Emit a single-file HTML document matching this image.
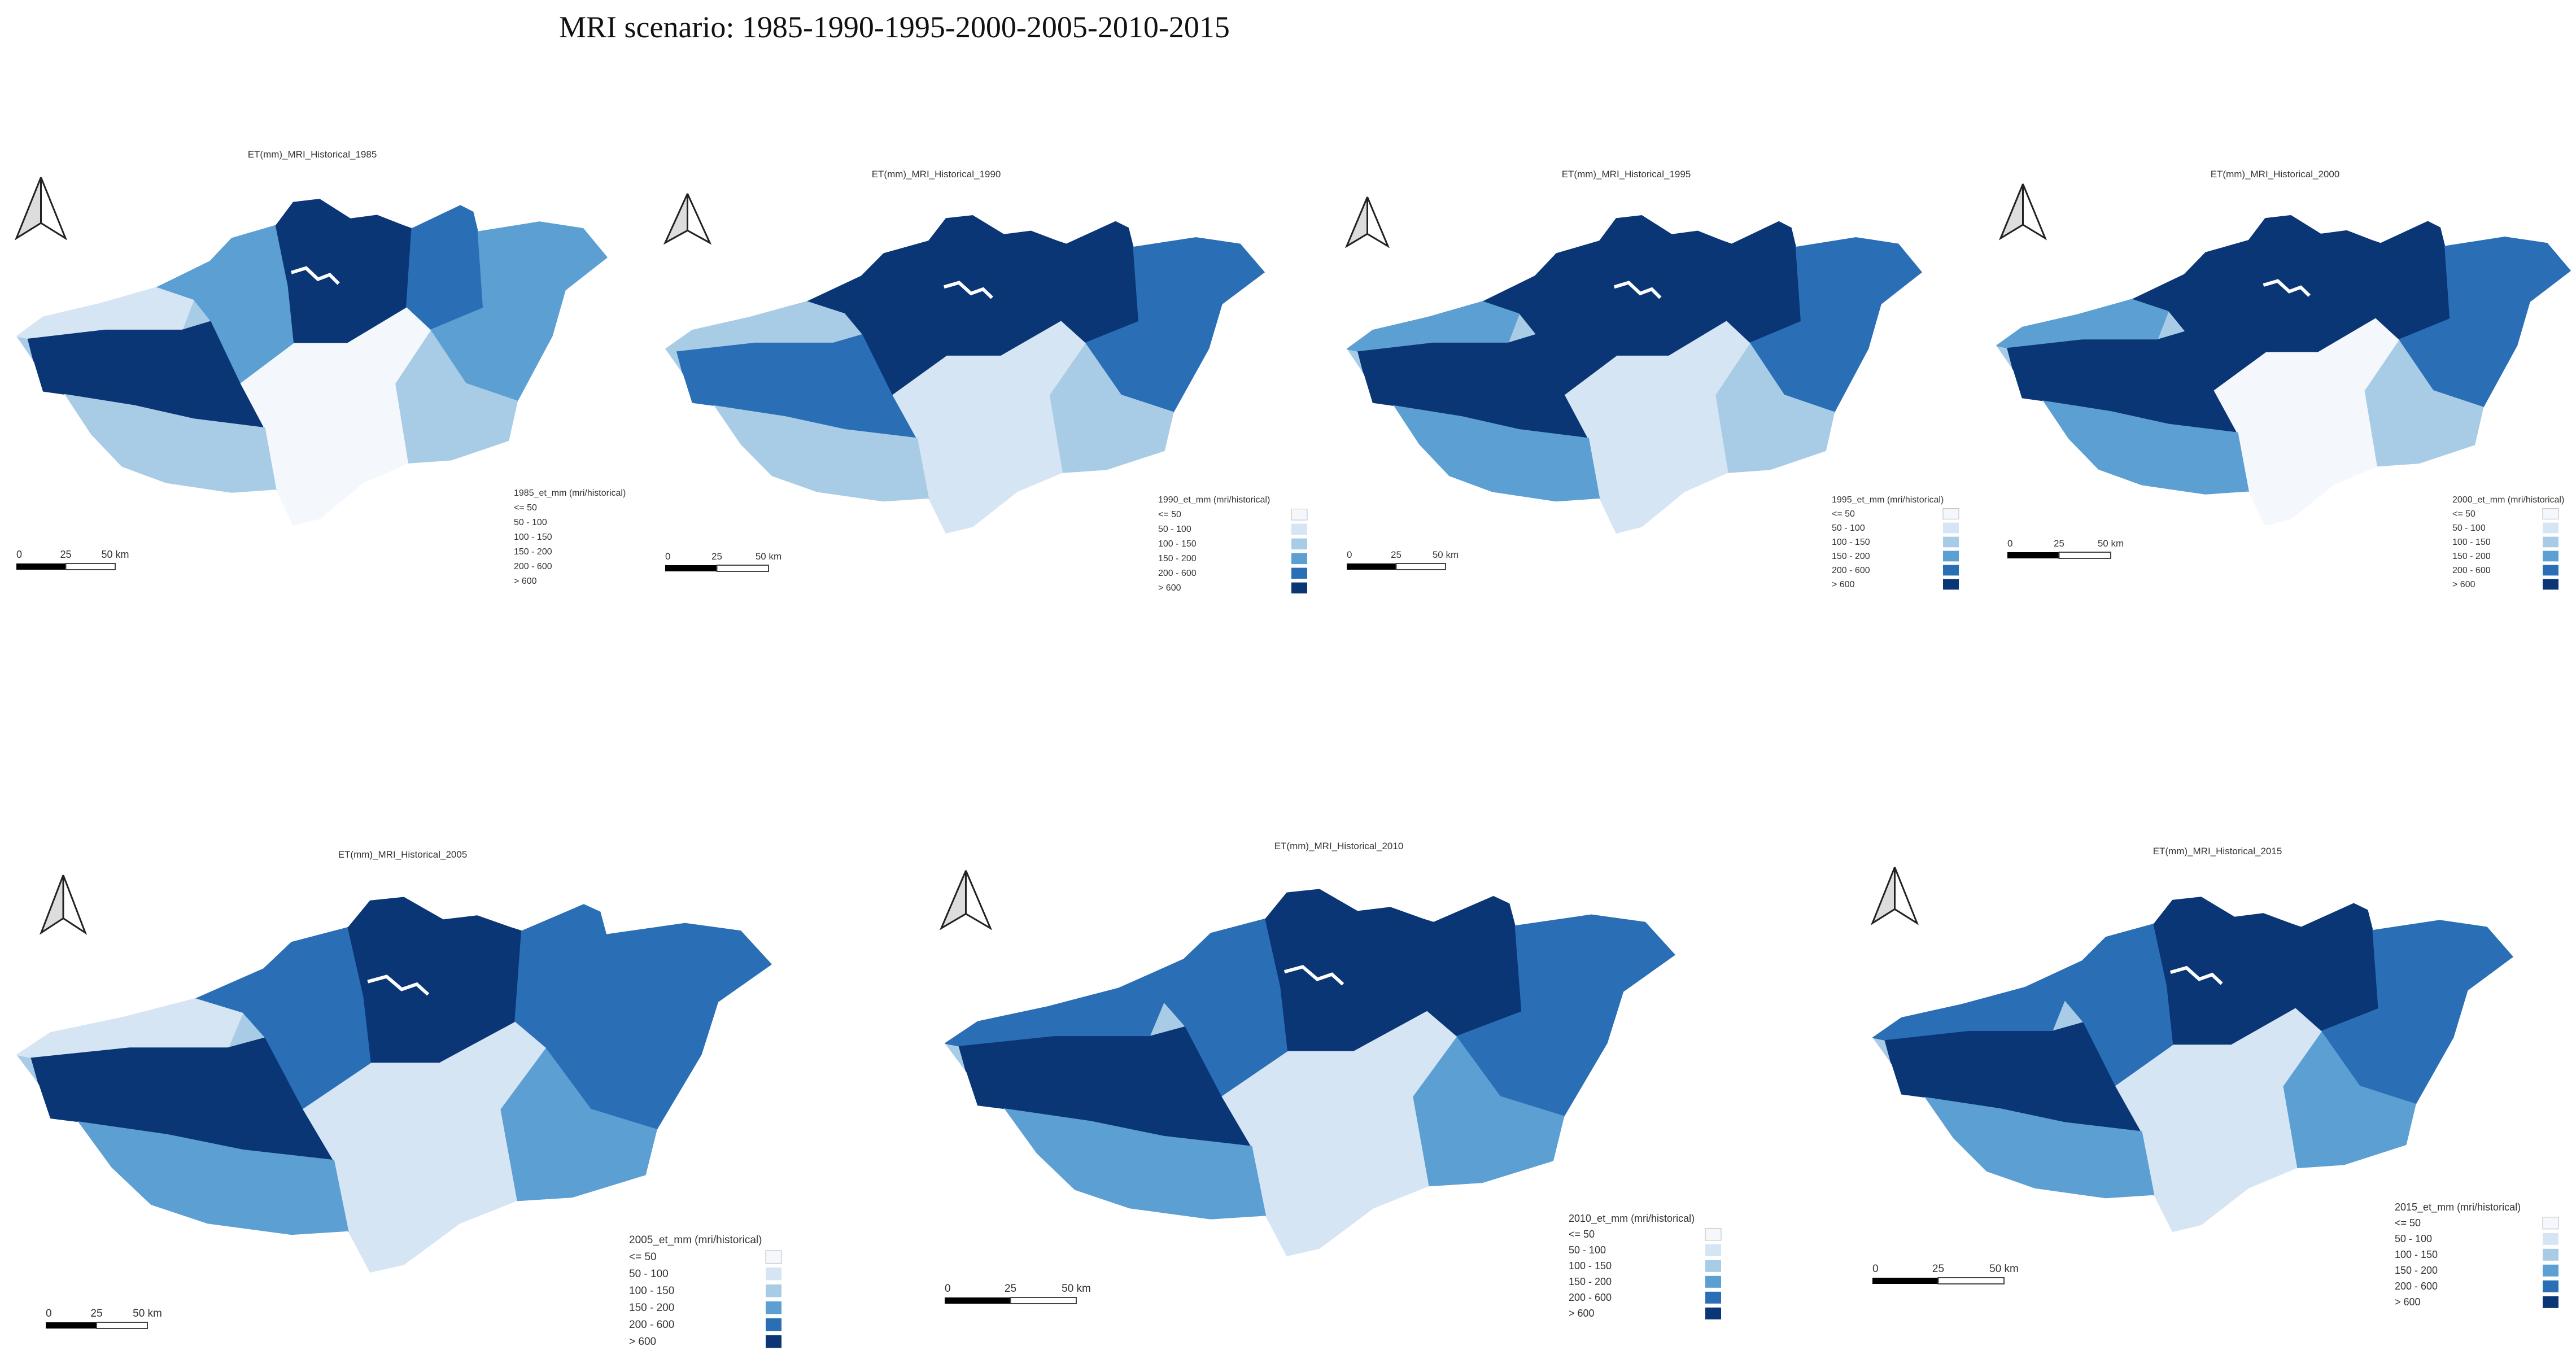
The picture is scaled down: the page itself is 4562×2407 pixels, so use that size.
<!DOCTYPE html>
<html><head><meta charset="utf-8"><style>
html,body{margin:0;padding:0;background:#fff;}
svg{display:block;}
text{font-family:"Liberation Sans",sans-serif;fill:#333;}
</style></head><body>
<svg id="fig" width="4562" height="2407" viewBox="0 0 4562 2407" xmlns="http://www.w3.org/2000/svg">
<rect width="4562" height="2407" fill="#fff"/>
<text x="990" y="66" font-size="54" style="font-family:'Liberation Serif',serif;fill:#111">MRI scenario: 1985-1990-1995-2000-2005-2010-2015</text>
<g id="maps"></g>
</svg>
<script>
// Data: class index (0..5) of each zone per year
const years = ['1985','1990','1995','2000','2005','2010','2015'];
const zoneNames = ['northwest','west-core','central-north','north-central','northeast','east','southeast','south-center','southwest'];
const cls1985 = [1,5,3,5,4,3,2,0,2];
const cls1990 = [2,4,5,5,5,4,2,1,2];
const cls1995 = [3,5,5,5,5,4,2,1,3];
const cls2000 = [3,5,5,5,5,4,2,0,3];
const cls2005 = [1,5,4,5,4,4,3,1,3];
const cls2010 = [4,5,4,5,5,4,3,1,3];
const cls2015 = [4,5,4,5,5,4,3,1,3];
const classLabels = ['<= 50','50 - 100','100 - 150','150 - 200','200 - 600','> 600'];
const palette = ['#f4f8fd','#d6e5f4','#a9cce6','#5c9fd2','#2a6fb6','#0b3676'];

const outline=[[0,313],[45,269],[141,239],[238,202],[327,144],[364,92],[439,63],[468,11],[513,4],[565,48],[610,40],[654,63],[669,70],[751,18],[773,33],[781,77],[885,55],[959,70],[1000,136],[929,210],[907,313],[848,460],[833,549],[736,593],[662,600],[587,644],[513,725],[468,740],[439,659],[364,666],[253,644],[178,607],[126,534],[82,445],[45,438],[30,372]];
const zones=[
[[0,313],[45,269],[141,239],[238,202],[300,230],[280,300],[150,300],[60,330]],
[[20,320],[150,300],[280,300],[330,280],[380,420],[420,520],[300,500],[200,470],[82,445],[45,438],[30,372]],
[[238,202],[327,144],[364,92],[439,63],[460,200],[470,330],[380,420],[330,280],[300,230]],
[[439,63],[468,11],[513,4],[565,48],[610,40],[654,63],[669,70],[660,250],[560,330],[470,330],[460,200]],
[[669,70],[751,18],[773,33],[781,77],[790,250],[700,300],[660,250]],
[[781,77],[885,55],[959,70],[1000,136],[929,210],[907,313],[848,460],[760,420],[700,300],[790,250]],
[[700,300],[760,420],[848,460],[833,549],[736,593],[662,600],[640,420]],
[[470,330],[560,330],[660,250],[700,300],[640,420],[662,600],[587,644],[513,725],[468,740],[439,659],[420,520],[380,420]],
[[82,445],[200,470],[300,500],[420,520],[439,659],[364,666],[253,644],[178,607],[126,534]]
];
const allCls=[cls1985,cls1990,cls1995,cls2000,cls2005,cls2010,cls2015];
// layout per panel (full-res px)
const panels=[
 {map:[29,349,1047,582],title:[553,279],arrow:[29,314,87,108],leg:[910,878,26,16,0],scale:[29,998,175,18]},
 {map:[1178,378,1062,567],title:[1658,314],arrow:[1178,343,79,87],leg:[2051,890,26,16,2287],scale:[1178,1001,183,17]},
 {map:[2385,378,1019,567],title:[2880,314],arrow:[2385,349,73,87],leg:[3244,890,25,16,3441],scale:[2385,998,175,17]},
 {map:[3535,378,1018,553],title:[4029,314],arrow:[3543,326,79,96],leg:[4343,890,25,16,4503],scale:[3555,978,183,17]},
 {map:[29,1585,1338,669],title:[713,1519],arrow:[73,1550,78,102],leg:[1114,2202,30,19,1356],scale:[81,2342,180,19]},
 {map:[1673,1571,1294,654],title:[2371,1504],arrow:[1667,1542,87,102],leg:[2778,2164,28,18,3020],scale:[1673,2298,233,19]},
 {map:[3316,1585,1135,597],title:[3927,1513],arrow:[3316,1536,79,99],leg:[4241,2144,28,18,4503],scale:[3316,2263,233,19]}
];
const NS='http://www.w3.org/2000/svg';
const root=document.getElementById('maps');
function mk(tag,attrs,parent){const e=document.createElementNS(NS,tag);for(const k in attrs)e.setAttribute(k,attrs[k]);parent.appendChild(e);return e;}
function pts(p,m){return p.map(q=>(m[0]+q[0]/1000*m[2]).toFixed(1)+','+(m[1]+q[1]/740*m[3]).toFixed(1)).join(' ');}
panels.forEach((P,i)=>{
 const y=years[i];
 const g=mk('g',{},root);
 
 
 const cp=mk('clipPath',{id:'clip'+i},g);
 mk('polygon',{points:pts(outline,P.map)},cp);
 const mg=mk('g',{'clip-path':'url(#clip'+i+')'},g);
 const base=mk('polygon',{points:pts(outline,P.map),fill:palette[2]},mg);
 
 
 zones.forEach((z,j)=>{
  const p=mk('polygon',{points:pts(z,P.map),fill:palette[allCls[i][j]],stroke:palette[allCls[i][j]],'stroke-width':2},mg);
  
  
 });
 // white lake squiggle
 const m=P.map;
 const lk=mk('polyline',{points:pts([[465,170],[490,160],[510,185],[530,175],[545,195]],m),fill:'none',stroke:'#fff','stroke-width':6},mg);
 
 
 // title
 const t=mk('text',{x:P.title[0],y:P.title[1],'font-size':17,'text-anchor':'middle'},g);
 t.textContent='ET(mm)_MRI_Historical_'+y;
 
 
 // north arrow
 const a=P.arrow,ax=a[0],ay=a[1],aw=a[2],ah=a[3];
 const ag=mk('g',{},g);
 
 
 mk('polygon',{points:`${ax+aw/2},${ay} ${ax},${ay+ah} ${ax+aw/2},${ay+ah*0.75}`,fill:'#ddd',stroke:'#222','stroke-width':3},ag);
 mk('polygon',{points:`${ax+aw/2},${ay} ${ax+aw},${ay+ah} ${ax+aw/2},${ay+ah*0.75}`,fill:'#fff',stroke:'#222','stroke-width':3},ag);
 // legend
 const L=P.leg;
 const lg=mk('g',{},g);
 
 
 const lt=mk('text',{x:L[0],y:L[1],'font-size':L[3]},lg);
 lt.textContent=y+'_et_mm (mri/historical)';
 classLabels.forEach((lab,k)=>{
  const ty=L[1]+L[2]*(k+1);
  const tx=mk('text',{x:L[0],y:ty,'font-size':L[3]},lg);
  tx.textContent=lab;
  
  
  if(L[4]){
   const sw=mk('rect',{x:L[4],y:ty-L[3]*0.9,width:28,height:L[2]*0.75,fill:palette[k],stroke:k==0?'#bbb':'none'},lg);
   
   
  }
 });
 // scale bar
 const S=P.scale;
 const sg=mk('g',{},g);
 
 
 mk('rect',{x:S[0],y:S[1],width:S[2]/2,height:11,fill:'#000'},sg);
 mk('rect',{x:S[0]+S[2]/2,y:S[1],width:S[2]/2,height:11,fill:'#fff',stroke:'#444','stroke-width':2},sg);
 [['0',0],['25',0.5],['50 km',1]].forEach(([s,f])=>{const e=mk('text',{x:S[0]+S[2]*f,y:S[1]-10,'font-size':S[3],'text-anchor':f==0?'start':'middle'},sg);e.textContent=s;});
});
</script>
</body></html>
